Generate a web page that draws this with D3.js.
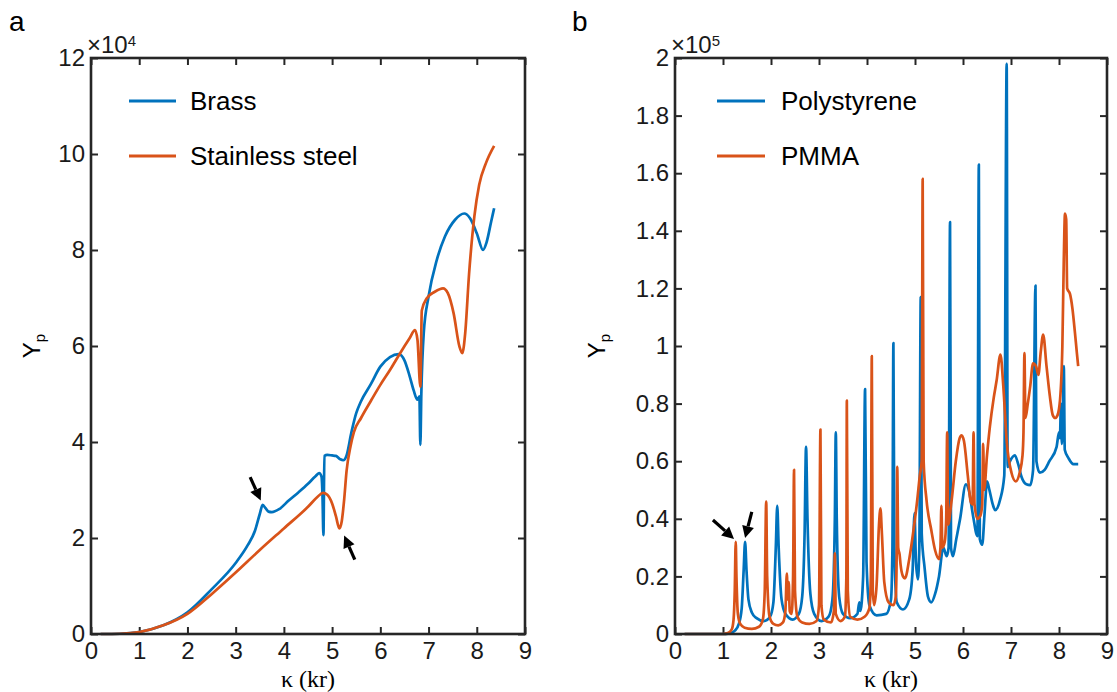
<!DOCTYPE html>
<html><head><meta charset="utf-8">
<script src="https://cdn.jsdelivr.net/npm/d3@7"></script>
<style>body{margin:0;background:#fff;} svg{display:block;}</style>
</head><body><svg id="c" width="1117" height="692"></svg>
<script>
// ---------- DATA ----------
const xTicks = [0,1,2,3,4,5,6,7,8,9];
const yTicksA = [0,2,4,6,8,10,12];            // ×10^4
const yTicksB = [0,0.2,0.4,0.6,0.8,1,1.2,1.4,1.6,1.8,2]; // ×10^5
const legendA = ["Brass","Stainless steel"];
const legendB = ["Polystyrene","PMMA"];

// Panel a (Y_p in units of 10^4)
const brass = [[0.2,0],[0.6,0.005],[1.0,0.04],[1.5,0.18],[2.0,0.45],[2.5,0.93],[3.0,1.48],[3.25,1.85],[3.4,2.15],[3.5,2.5],[3.56,2.69],[3.62,2.62],[3.68,2.55],[3.75,2.54],[3.9,2.6],[4.1,2.78],[4.3,2.95],[4.5,3.13],[4.65,3.28],[4.73,3.35],[4.78,3.28],[4.80,2.9],[4.82,2.06],[4.84,3.71],[4.9,3.73],[5.0,3.72],[5.08,3.71],[5.17,3.64],[5.23,3.62],[5.3,3.72],[5.4,4.2],[5.5,4.6],[5.6,4.85],[5.8,5.2],[6.0,5.57],[6.2,5.77],[6.38,5.83],[6.5,5.7],[6.6,5.4],[6.69,5.08],[6.77,4.88],[6.81,4.95],[6.83,3.94],[6.85,5.0],[6.9,6.27],[7.0,7.03],[7.17,7.79],[7.34,8.28],[7.55,8.63],[7.74,8.76],[7.86,8.66],[8.0,8.35],[8.13,8.0],[8.2,8.15],[8.3,8.6],[8.36,8.87]];
const steel = [[0.2,0],[0.6,0.005],[1.0,0.04],[1.5,0.18],[2.0,0.42],[2.5,0.83],[3.0,1.28],[3.5,1.75],[4.0,2.2],[4.5,2.65],[4.7,2.86],[4.81,2.94],[4.9,2.9],[5.0,2.72],[5.08,2.45],[5.15,2.2],[5.2,2.35],[5.25,2.8],[5.3,3.4],[5.38,3.9],[5.45,4.2],[5.6,4.5],[5.8,4.85],[6.0,5.19],[6.2,5.5],[6.41,5.85],[6.6,6.15],[6.72,6.33],[6.77,6.13],[6.83,5.15],[6.86,6.74],[6.96,6.99],[7.13,7.13],[7.3,7.2],[7.4,7.1],[7.52,6.68],[7.64,5.99],[7.7,5.85],[7.76,6.27],[7.84,7.5],[7.95,8.7],[8.05,9.36],[8.19,9.81],[8.36,10.17]];

// Panel b (Y_p in units of 10^5)
const polystyrene = [[0.2,0],[1.0,0],[1.15,0.003],[1.25,0.012],[1.33,0.035],[1.39,0.09],[1.43,0.22],[1.46,0.32],[1.49,0.22],[1.53,0.12],[1.6,0.075],[1.7,0.055],[1.85,0.045],[1.98,0.06],[2.05,0.11],[2.1,0.3],[2.13,0.445],[2.16,0.3],[2.22,0.12],[2.3,0.07],[2.45,0.05],[2.58,0.07],[2.65,0.13],[2.7,0.35],[2.73,0.65],[2.76,0.4],[2.82,0.14],[2.9,0.07],[3.05,0.045],[3.2,0.06],[3.28,0.12],[3.33,0.4],[3.35,0.70],[3.37,0.4],[3.42,0.13],[3.5,0.07],[3.65,0.055],[3.8,0.07],[3.84,0.11],[3.86,0.08],[3.92,0.2],[3.96,0.85],[3.99,0.25],[4.05,0.1],[4.2,0.065],[4.4,0.07],[4.5,0.12],[4.53,0.3],[4.55,1.01],[4.57,0.3],[4.62,0.11],[4.75,0.085],[4.88,0.12],[4.95,0.22],[4.99,0.42],[5.02,0.25],[5.06,0.19],[5.09,0.3],[5.12,1.17],[5.14,0.35],[5.2,0.23],[5.27,0.13],[5.34,0.11],[5.42,0.14],[5.5,0.2],[5.59,0.30],[5.66,0.27],[5.7,0.3],[5.73,1.43],[5.75,0.3],[5.79,0.27],[5.86,0.33],[5.94,0.40],[6.06,0.52],[6.12,0.5],[6.21,0.41],[6.3,0.34],[6.33,1.63],[6.35,0.33],[6.4,0.31],[6.45,0.42],[6.5,0.53],[6.55,0.5],[6.62,0.45],[6.67,0.43],[6.77,0.465],[6.86,0.55],[6.91,1.98],[6.93,0.58],[6.98,0.6],[7.08,0.62],[7.15,0.59],[7.22,0.545],[7.32,0.52],[7.4,0.517],[7.46,0.57],[7.51,1.21],[7.53,0.6],[7.6,0.56],[7.7,0.57],[7.8,0.6],[7.95,0.65],[8.0,0.7],[8.02,0.68],[8.04,0.8],[8.06,0.66],[8.08,0.75],[8.1,0.93],[8.12,0.64],[8.2,0.61],[8.3,0.59],[8.4,0.59]];
const pmma = [[0.2,0],[1.0,0],[1.1,0.003],[1.18,0.015],[1.22,0.05],[1.245,0.15],[1.265,0.32],[1.28,0.2],[1.31,0.07],[1.36,0.035],[1.45,0.022],[1.6,0.018],[1.75,0.025],[1.83,0.05],[1.87,0.15],[1.9,0.46],[1.92,0.2],[1.97,0.06],[2.05,0.035],[2.15,0.03],[2.25,0.04],[2.3,0.08],[2.33,0.21],[2.35,0.12],[2.37,0.18],[2.39,0.08],[2.43,0.07],[2.46,0.2],[2.48,0.57],[2.5,0.15],[2.55,0.06],[2.65,0.04],[2.8,0.035],[2.95,0.045],[3.0,0.1],[3.03,0.71],[3.05,0.1],[3.1,0.05],[3.25,0.04],[3.31,0.08],[3.33,0.28],[3.35,0.07],[3.45,0.045],[3.54,0.06],[3.57,0.2],[3.58,0.81],[3.6,0.15],[3.65,0.06],[3.8,0.05],[3.95,0.06],[4.05,0.09],[4.08,0.2],[4.10,0.965],[4.12,0.15],[4.15,0.1],[4.2,0.17],[4.25,0.38],[4.28,0.436],[4.31,0.35],[4.36,0.18],[4.45,0.11],[4.55,0.1],[4.6,0.13],[4.62,0.3],[4.63,0.58],[4.65,0.3],[4.68,0.275],[4.7,0.24],[4.75,0.2],[4.79,0.193],[4.88,0.26],[4.96,0.35],[5.05,0.47],[5.1,0.55],[5.14,0.6],[5.16,1.58],[5.18,0.6],[5.24,0.465],[5.34,0.36],[5.42,0.29],[5.5,0.26],[5.53,0.3],[5.55,0.445],[5.57,0.3],[5.62,0.32],[5.65,0.4],[5.67,0.70],[5.69,0.38],[5.76,0.46],[5.85,0.6],[5.93,0.68],[5.97,0.69],[6.02,0.67],[6.1,0.55],[6.16,0.46],[6.2,0.45],[6.22,0.7],[6.24,0.45],[6.3,0.40],[6.36,0.41],[6.4,0.45],[6.42,0.66],[6.44,0.5],[6.5,0.62],[6.56,0.72],[6.64,0.82],[6.7,0.88],[6.78,0.97],[6.84,0.86],[6.91,0.67],[7.01,0.56],[7.1,0.53],[7.18,0.56],[7.24,0.62],[7.26,0.7],[7.28,0.975],[7.3,0.75],[7.35,0.8],[7.4,0.86],[7.46,0.94],[7.52,0.93],[7.57,0.90],[7.62,0.98],[7.67,1.04],[7.74,0.93],[7.81,0.825],[7.87,0.76],[7.92,0.75],[7.97,0.76],[8.02,0.81],[8.07,1.0],[8.1,1.3],[8.125,1.46],[8.15,1.44],[8.17,1.2],[8.23,1.18],[8.28,1.13],[8.33,1.05],[8.37,0.98],[8.4,0.93]];

// Arrows: [tail, tip] in data units
const arrowsA = [[[3.3,3.27],[3.52,2.78]], [[5.47,1.55],[5.25,2.05]]];
const arrowsB = [[[0.79,0.396],[1.23,0.33]], [[1.60,0.424],[1.46,0.333]]];

// ---------- DRAW ----------
const BLUE = "#0072BD", ORANGE = "#D95319", AX = "#262626";
const svg = d3.select("#c");
const sans = "'Liberation Sans', Arial, Helvetica, sans-serif";
const serif = "'Liberation Serif', 'Times New Roman', serif";

function panel(cfg) {
  const x = d3.scaleLinear().domain([0,9]).range([cfg.left, cfg.right]);
  const y = d3.scaleLinear().domain([0, cfg.ymax]).range([634, 58]);
  const g = svg.append("g");

  const style = sel => {
    sel.select(".domain").remove();
    sel.selectAll(".tick line").attr("stroke", AX).attr("stroke-width", 2);
    sel.selectAll("text").attr("font-family", sans).attr("font-size", 24).attr("fill", "#1a1a1a");
  };
  g.append("g").attr("transform", `translate(0,634)`)
    .call(d3.axisBottom(x).tickValues(xTicks).tickSizeInner(-7).tickSizeOuter(0).tickPadding(8).tickFormat(d3.format("d")))
    .call(style);
  g.append("g").attr("transform", `translate(0,58)`)
    .call(d3.axisTop(x).tickValues(xTicks).tickSizeInner(-7).tickSizeOuter(0).tickFormat(""))
    .call(style);
  g.append("g").attr("transform", `translate(${cfg.left},0)`)
    .call(d3.axisLeft(y).tickValues(cfg.yTicks).tickSizeInner(-7).tickSizeOuter(0).tickPadding(6).tickFormat(d => String(d)))
    .call(style);
  g.append("g").attr("transform", `translate(${cfg.right},0)`)
    .call(d3.axisRight(y).tickValues(cfg.yTicks).tickSizeInner(-7).tickSizeOuter(0).tickFormat(""))
    .call(style);

  const line = d3.line().x(d => x(d[0])).y(d => y(d[1])).curve(d3.curveMonotoneX);
  cfg.series.forEach((s, i) => {
    g.append("path").datum(s.data).attr("d", line)
      .attr("fill", "none").attr("stroke", s.color).attr("stroke-width", 2.7)
      .attr("stroke-linejoin", "round");
  });

  // frame
  g.append("rect").attr("x", cfg.left).attr("y", 58)
    .attr("width", cfg.right - cfg.left).attr("height", 634 - 58)
    .attr("fill", "none").attr("stroke", AX).attr("stroke-width", 2.6);

  // legend
  cfg.series.forEach((s, i) => {
    const ly = 101 + i * 55;
    g.append("line").attr("x1", cfg.left + cfg.lg[0]).attr("x2", cfg.left + cfg.lg[1])
      .attr("y1", ly).attr("y2", ly).attr("stroke", s.color).attr("stroke-width", 3);
    g.append("text").attr("x", cfg.left + cfg.lg[2]).attr("y", ly).attr("dy", "0.36em")
      .attr("font-family", sans).attr("font-size", 26).attr("fill", "#000").text(s.name);
  });

  // arrows
  cfg.arrows.forEach(a => {
    const x0 = x(a[0][0]), y0 = y(a[0][1]), x1 = x(a[1][0]), y1 = y(a[1][1]);
    const ang = Math.atan2(y1 - y0, x1 - x0), hl = 12, hw = 6;
    const bx = x1 - hl * Math.cos(ang), by = y1 - hl * Math.sin(ang);
    g.append("line").attr("x1", x0).attr("y1", y0).attr("x2", bx).attr("y2", by)
      .attr("stroke", "#000").attr("stroke-width", 3.2);
    const px = -Math.sin(ang) * hw, py = Math.cos(ang) * hw;
    g.append("path").attr("d", `M${x1},${y1}L${bx+px},${by+py}L${bx-px},${by-py}Z`).attr("fill", "#000");
  });

  // exponent label
  const ex = g.append("text").attr("x", cfg.left - 4).attr("y", 53)
    .attr("font-family", sans).attr("font-size", 24).attr("fill", "#1a1a1a");
  ex.append("tspan").text("×10");
  ex.append("tspan").attr("font-size", 15).attr("dy", -7).text(cfg.exp);

  // y label
  const yl = g.append("text").attr("transform", `translate(${cfg.ylx},346) rotate(-90)`)
    .attr("text-anchor", "middle").attr("font-family", sans).attr("font-size", 24).attr("fill", "#000");
  yl.append("tspan").text("Y");
  yl.append("tspan").attr("font-size", 15).attr("dy", 5).text("p");

  // x label
  g.append("text").attr("x", (cfg.left + cfg.right) / 2).attr("y", 687).attr("text-anchor", "middle")
    .attr("font-family", serif).attr("font-size", 24).attr("fill", "#000").text("κ (kr)");

  // panel letter
  g.append("text").attr("x", cfg.letterX).attr("y", 31)
    .attr("font-family", sans).attr("font-size", 28).attr("fill", "#000").text(cfg.letter);
}

panel({left: 91, right: 525, ymax: 12, yTicks: yTicksA, exp: "4", ylx: 40, letter: "a", letterX: 9,
  lg: [38, 85, 99], arrows: arrowsA,
  series: [{name: legendA[0], data: brass, color: BLUE}, {name: legendA[1], data: steel, color: ORANGE}]});
panel({left: 675, right: 1107, ymax: 2, yTicks: yTicksB, exp: "5", ylx: 605, letter: "b", letterX: 572,
  lg: [42, 90, 106], arrows: arrowsB,
  series: [{name: legendB[0], data: polystyrene, color: BLUE}, {name: legendB[1], data: pmma, color: ORANGE}]});
</script></body></html>
